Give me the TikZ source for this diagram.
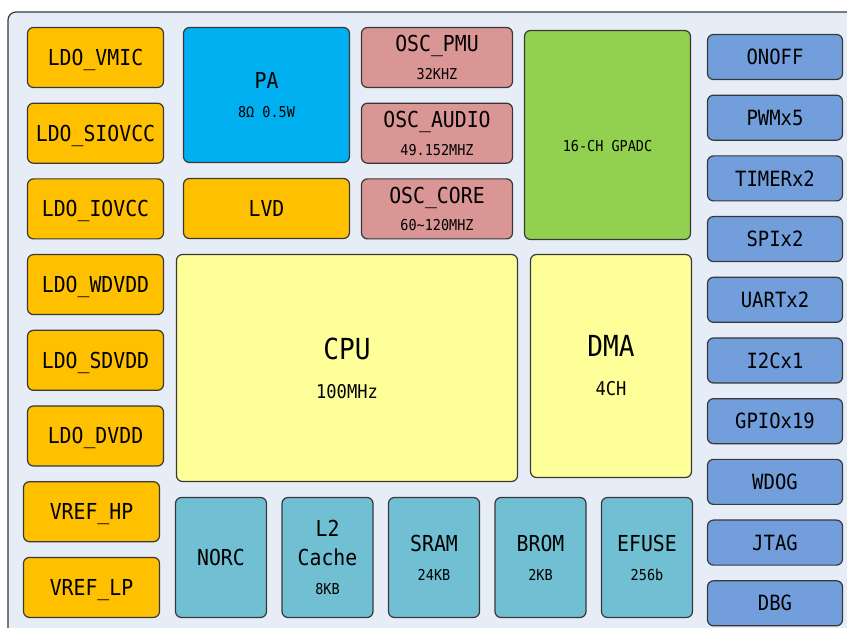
\documentclass[tikz,border=0pt]{standalone}
\usepackage{fontspec}
\setmainfont{DejaVu Sans Mono}[FakeStretch=0.9]
\usetikzlibrary{
  positioning,  % below=of ...
}
\definecolor{edge}{HTML}{383838}
\definecolor{panel}{HTML}{E7EDF7}
\definecolor{pwrc}{HTML}{FFC000}
\definecolor{pac}{HTML}{00B0F0}
\definecolor{oscc}{HTML}{DA9694}
\definecolor{adcc}{HTML}{92D050}
\definecolor{corec}{HTML}{FFFF99}
\definecolor{memc}{HTML}{70BFD2}
\definecolor{ioc}{HTML}{729FDB}
\newcommand{\sub}[2][15]{{\fontsize{#1}{#1}\selectfont #2}}
\tikzset{
  frame/.style={
    draw=edge,
    fill=panel,
    line width=1.2pt,
    rounded corners=8pt
  },
  blk/.style={
    draw=edge,
    line width=1.2pt,
    rounded corners=6pt,
    inner sep=0pt,
    outer sep=0pt,
    align=center,
    font=\fontsize{22}{29}\selectfont
  },
  one line/.style={
    text height=16pt,
    text depth=0pt
  },
  ldo/.style={
    blk, one line,
    fill=pwrc,
    minimum width=136pt,
    minimum height=60pt
  },
  osc/.style={
    blk,
    fill=oscc,
    minimum width=151pt,
    minimum height=60pt,
    font=\fontsize{22}{27.5}\selectfont
  },
  mem/.style={
    blk,
    fill=memc,
    minimum width=91pt,
    minimum height=120pt
  },
  core/.style={
    blk,
    fill=corec,
    minimum height=223pt,
    font=\fontsize{29}{39}\selectfont
  },
  io/.style={
    blk, one line,
    fill=ioc,
    minimum width=135pt,
    minimum height=45pt,
    font=\fontsize{21}{21}\selectfont,
    text height=15.3pt
  }
}
\begin{document}
\begin{tikzpicture}[x=1pt,y=-1pt,node distance=15.7pt]
\useasboundingbox (0,0) rectangle (847,628);
\clip (0,0) rectangle (847,628);
\draw[frame] (8,12) rectangle (880,660);

% power supplies
\node[ldo,anchor=north west] (vmic)   at (27.5,27.5)    {LDO\_VMIC};
\node[ldo]                   (siovcc) [below=of vmic]   {LDO\_SIOVCC};
\node[ldo]                   (iovcc)  [below=of siovcc] {LDO\_IOVCC};
\node[ldo]                   (wdvdd)  [below=of iovcc]  {LDO\_WDVDD};
\node[ldo]                   (sdvdd)  [below=of wdvdd]  {LDO\_SDVDD};
\node[ldo]                   (dvdd)   [below=of sdvdd]  {LDO\_DVDD};
\node[ldo]                   (vrefhp) [below=of dvdd,xshift=-4pt] {VREF\_HP};
\node[ldo]                   (vreflp) [below=of vrefhp] {VREF\_LP};

% analog
\node[blk,fill=pac,anchor=north west,minimum width=166pt,minimum height=135pt]
  (pa) at (183.5,27.5) {PA\\\sub{8Ω 0.5W}};
\node[ldo,minimum width=166pt] (lvd) [below=16pt of pa] {LVD};
\node[osc,anchor=north west] (pmu)   at (361.5,27.5)   {OSC\_PMU\\\sub{32KHZ}};
\node[osc]                   (audio) [below=of pmu]    {OSC\_AUDIO\\\sub{49.152MHZ}};
\node[osc]                   (clk)   [below=of audio]  {OSC\_CORE\\\sub{60\textasciitilde120MHZ}};
\node[blk,fill=adcc,anchor=north west,minimum width=166pt,minimum height=209pt,
  font=\fontsize{15}{15}\selectfont,text height=34pt,text depth=0pt]
  (adc) at (524.5,30.5) {16-CH GPADC};

% core
\node[core,anchor=north west,minimum width=341pt,minimum height=227pt]
  (cpu) at (176.5,254.5) {CPU\\\sub[19]{100MHz}};
\node[core,anchor=north west,minimum width=161pt]
  (dma) at (530.5,254.5) {DMA\\\sub[19]{4CH}};

% memories
\begin{scope}[node distance=15.5pt]
\node[mem,anchor=north west] (norc)  at (175.5,497.5)  {NORC};
\node[mem]                   (cache) [right=of norc]   {L2\\Cache\\\sub{8KB}};
\node[mem]                   (sram)  [right=of cache]  {SRAM\\\sub{24KB}};
\node[mem]                   (brom)  [right=of sram]   {BROM\\\sub{2KB}};
\node[mem]                   (efuse) [right=of brom]   {EFUSE\\\sub{256b}};
\end{scope}

% peripherals
\node[io,anchor=north west] (onoff) at (707.5,34.5)   {ONOFF};
\node[io]                   (pwm)   [below=of onoff]  {PWMx5};
\node[io]                   (timer) [below=of pwm]    {TIMERx2};
\node[io]                   (spi)   [below=of timer]  {SPIx2};
\node[io]                   (uart)  [below=of spi]    {UARTx2};
\node[io]                   (iic)   [below=of uart]   {I2Cx1};
\node[io]                   (gpio)  [below=of iic]    {GPIOx19};
\node[io]                   (wdog)  [below=of gpio]   {WDOG};
\node[io]                   (jtag)  [below=of wdog]   {JTAG};
\node[io]                   (dbg)   [below=of jtag]   {DBG};
\end{tikzpicture}
\end{document}
